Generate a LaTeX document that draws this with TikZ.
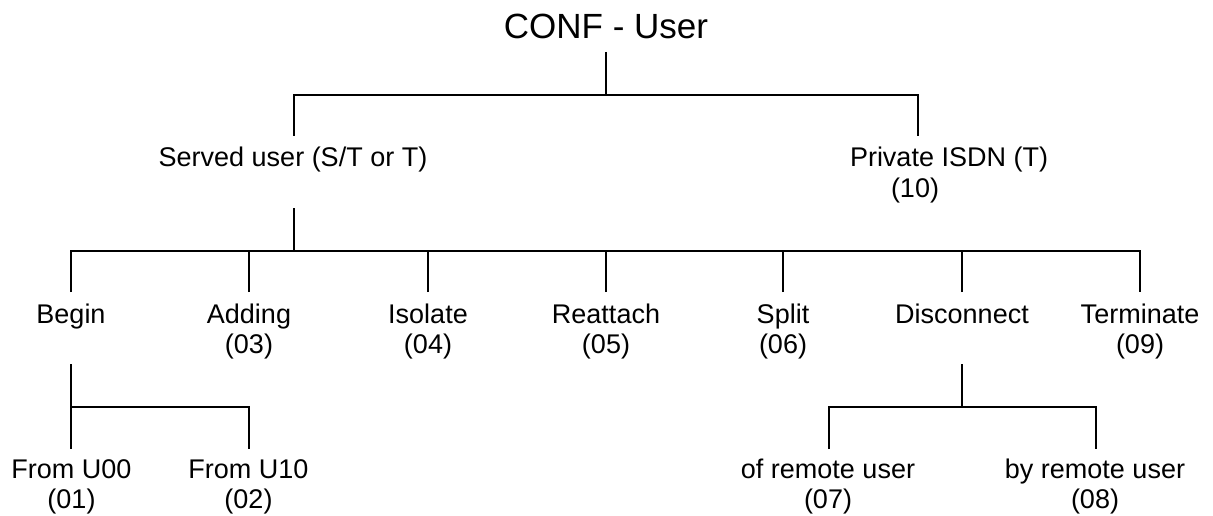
\documentclass[tikz,border=0pt]{standalone}
\usepackage{fontspec}
\setmainfont{Liberation Sans}
\begin{document}
\begin{tikzpicture}[x=1pt,y=-1pt,
  conn/.style={line width=1.9pt},
  lbl/.style={anchor=base,inner sep=0pt,align=center,font=\fontsize{27}{30}\selectfont},
  ttl/.style={anchor=base,inner sep=0pt,font=\fontsize{35}{40}\selectfont}]
\useasboundingbox (0,0) rectangle (1213,516);
% texts (multi-line nodes are placed at the baseline of their last line)
\node[ttl] (root) at (606,39) {CONF - User};
\node[lbl] (served) at (293,167) {Served user (S/T or T)};
\node[lbl] (priv) at (949,167) {Private ISDN (T)};
\node[lbl] (privn) at (915,197) {(10)};
\node[lbl] (begin) at (71,323) {Begin};
\node[lbl] (adding) at (249,353) {Adding\\(03)};
\node[lbl] (isolate) at (428,353) {Isolate\\(04)};
\node[lbl] (reattach) at (606,353) {Reattach\\(05)};
\node[lbl] (split) at (783,353) {Split\\(06)};
\node[lbl] (disc) at (962,323) {Disconnect};
\node[lbl] (term) at (1140,353) {Terminate\\(09)};
\node[lbl] (u00) at (71.5,508) {From U00\\(01)};
\node[lbl] (u10) at (248.5,508) {From U10\\(02)};
\node[lbl] (ofr) at (828,508) {of remote user\\(07)};
\node[lbl] (byr) at (1095,508) {by remote user\\(08)};
% connector coordinates
\coordinate (r0) at (606,52);
\coordinate (r1) at (606,95);
\coordinate (sT) at (294,136);
\coordinate (pT) at (918,136);
\coordinate (s0) at (294,208);
\coordinate (s1) at (294,251);
\coordinate (c1) at (71,292);
\coordinate (c2) at (249,292);
\coordinate (c3) at (428,292);
\coordinate (c4) at (606,292);
\coordinate (c5) at (783,292);
\coordinate (c6) at (962,292);
\coordinate (c7) at (1140,292);
\coordinate (b0) at (71,364);
\coordinate (b1) at (71,407);
\coordinate (b2) at (249,449);
\coordinate (d0) at (962,364);
\coordinate (d1) at (962,407);
\coordinate (d2) at (829,449);
\coordinate (d3) at (1096,449);
% level 1
\draw[conn] (r0) -- (r1);
\draw[conn] (sT) -- (sT |- r1) -- (pT |- r1) -- (pT);
% level 2
\draw[conn] (s0) -- (s1);
\draw[conn] (c1) -- (c1 |- s1) -- (c7 |- s1) -- (c7);
\foreach \c in {c2,c3,c4,c5,c6} \draw[conn] (\c) -- (\c |- s1);
% level 3 begin
\draw[conn] (b0) -- (b1) -- (b1 -| b2) -- (b2);
\draw[conn] (b1) -- (b1 |- b2);
% level 3 disconnect
\draw[conn] (d0) -- (d1);
\draw[conn] (d2) -- (d2 |- d1) -- (d3 |- d1) -- (d3);
\end{tikzpicture}
\end{document}
